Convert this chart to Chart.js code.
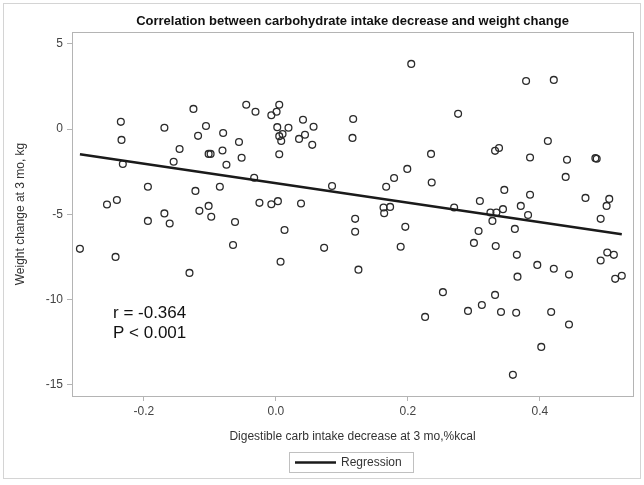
<!DOCTYPE html>
<html><head><meta charset="utf-8">
<script src="https://cdn.jsdelivr.net/npm/chart.js@4/dist/chart.umd.min.js"></script>
<style>html,body{margin:0;padding:0;background:#fff}#wrap{width:644px;height:485px;position:relative}</style>
</head><body><div id="wrap"><canvas id="c" width="644" height="485"></canvas></div>
<script>
const carbDecrease = [
-0.235,-0.234,-0.169,-0.125,-0.045,-0.031,-0.106,-0.118,-0.080,-0.056,
-0.146,-0.102,-0.099,-0.081,-0.052,-0.155,0.005,0.001,-0.007,0.205,
0.041,0.117,0.002,0.019,0.057,0.005,0.010,0.008,0.035,0.044,
0.055,0.116,0.005,0.235,0.379,0.421,0.276,0.412,0.332,0.338,
0.385,0.441,0.484,0.486,-0.232,-0.075,-0.033,-0.194,-0.122,-0.085,
-0.256,-0.241,-0.169,-0.116,-0.102,-0.025,-0.194,-0.161,-0.098,-0.062,
-0.297,-0.243,-0.065,-0.131,0.199,0.179,0.236,0.085,0.167,-0.007,
0.003,0.038,0.163,0.173,0.164,0.120,0.120,0.196,0.013,0.073,
0.189,0.007,0.125,0.439,0.346,0.385,0.469,0.505,0.501,0.309,
0.371,0.270,0.325,0.334,0.344,0.382,0.328,0.492,0.307,0.362,
0.300,0.333,0.365,0.502,0.512,0.492,0.396,0.421,0.366,0.444,
0.514,0.524,0.253,0.226,0.291,0.312,0.332,0.341,0.364,0.417,
0.444,0.402,0.359
];
const weightChange = [
0.43,-0.63,0.08,1.19,1.43,1.02,0.19,-0.39,-0.22,-0.75,
-1.16,-1.45,-1.45,-1.25,-1.68,-1.91,1.43,1.02,0.82,3.83,
0.55,0.60,0.12,0.08,0.14,-0.41,-0.29,-0.69,-0.57,-0.33,
-0.92,-0.51,-1.47,-1.45,2.83,2.89,0.90,-0.69,-1.27,-1.10,
-1.66,-1.79,-1.70,-1.73,-2.04,-2.09,-2.85,-3.38,-3.62,-3.38,
-4.42,-4.15,-4.94,-4.79,-4.50,-4.32,-5.38,-5.53,-5.14,-5.44,
-7.02,-7.49,-6.79,-8.43,-2.33,-2.86,-3.13,-3.33,-3.38,-4.40,
-4.22,-4.36,-4.59,-4.56,-4.93,-5.26,-6.02,-5.73,-5.91,-6.96,
-6.90,-7.78,-8.24,-2.80,-3.56,-3.85,-4.03,-4.09,-4.50,-4.21,
-4.50,-4.59,-4.89,-4.89,-4.69,-5.03,-5.38,-5.26,-5.97,-5.85,
-6.67,-6.85,-7.37,-7.23,-7.37,-7.70,-7.96,-8.19,-8.65,-8.53,
-8.78,-8.60,-9.56,-11.01,-10.66,-10.31,-9.72,-10.72,-10.77,-10.72,
-11.46,-12.77,-14.41
];
const regressionX = [-0.297, 0.524];
const regressionY = [-1.47, -6.16];
const xTicks = [-0.2, 0.0, 0.2, 0.4];
const yTicks = [-15, -10, -5, 0, 5];
const statsLines = ['r = -0.364', 'P < 0.001'];
const chartTitle = 'Correlation between carbohydrate intake decrease and weight change';
const xTitle = 'Digestible carb intake decrease at 3 mo,%kcal';
const yTitle = 'Weight change at 3 mo, kg';
const seriesLabels = ['Data', 'Regression'];

const FONT = "'Liberation Sans', Arial, sans-serif";

const decor = {
  id: 'decor',
  afterDraw(chart) {
    const ctx = chart.ctx;
    const a = chart.chartArea;
    ctx.save();
    // outer border
    ctx.strokeStyle = '#d4d4d4';
    ctx.lineWidth = 1;
    ctx.strokeRect(3.5, 3.5, 637, 475);
    // plot frame
    ctx.strokeStyle = '#b4b4b4';
    ctx.strokeRect(Math.round(a.left) + 0.5, Math.round(a.top) + 0.5, Math.round(a.right - a.left), Math.round(a.bottom - a.top));
    // title
    ctx.fillStyle = '#111';
    ctx.font = 'bold 13px ' + FONT;
    ctx.textAlign = 'center';
    ctx.textBaseline = 'middle';
    ctx.fillText(chartTitle, (a.left + a.right) / 2, 21);
    // stats
    ctx.font = '17px ' + FONT;
    ctx.textAlign = 'left';
    ctx.textBaseline = 'alphabetic';
    ctx.fillText(statsLines[0], 113, 318);
    ctx.fillText(statsLines[1], 113, 338);
    // legend
    const lx = 289.5, ly = 452.5, lw = 124, lh = 20;
    ctx.strokeStyle = '#c0c0c0';
    ctx.lineWidth = 1;
    ctx.strokeRect(lx, ly, lw, lh);
    ctx.strokeStyle = '#1a1a1a';
    ctx.lineWidth = 2.5;
    ctx.beginPath();
    ctx.moveTo(295, 462.5);
    ctx.lineTo(336, 462.5);
    ctx.stroke();
    ctx.fillStyle = '#333';
    ctx.font = '12px ' + FONT;
    ctx.textBaseline = 'middle';
    ctx.fillText(chart.data.datasets[1].label, 341, 463);
    ctx.restore();
  }
};

new Chart(document.getElementById('c'), {
  type: 'scatter',
  data: {
    datasets: [
      {
        label: seriesLabels[0],
        data: carbDecrease.map((x, i) => ({x: x, y: weightChange[i]})),
        pointStyle: 'circle',
        pointRadius: 3.4,
        borderWidth: 1.3,
        borderColor: '#2b2b2b',
        backgroundColor: 'rgba(255,255,255,0)',
        order: 2
      },
      {
        type: 'line',
        label: seriesLabels[1],
        data: regressionX.map((x, i) => ({x: x, y: regressionY[i]})),
        borderColor: '#1a1a1a',
        borderWidth: 2.5,
        pointRadius: 0,
        fill: false,
        order: 1
      }
    ]
  },
  options: {
    responsive: false,
    animation: false,
    devicePixelRatio: 1,
    layout: {padding: {top: 32, right: 11, bottom: 0, left: 0}},
    plugins: {legend: {display: false}, tooltip: {enabled: false}, title: {display: false}},
    scales: {
      x: {
        type: 'linear',
        min: -0.309, max: 0.541,
        afterBuildTicks: s => { s.ticks = xTicks.map(v => ({value: v})); },
        afterFit: s => { s.height = 89; },
        ticks: {callback: v => Number(v).toFixed(1), font: {family: FONT, size: 12}, color: '#444', padding: 3, maxRotation: 0, autoSkip: false},
        grid: {drawOnChartArea: false, drawTicks: true, tickLength: 5, color: '#b4b4b4'},
        border: {display: true, color: '#b4b4b4'},
        title: {display: true, text: xTitle, font: {family: FONT, size: 12}, color: '#333', padding: {top: 4, bottom: 41}}
      },
      y: {
        type: 'linear',
        min: -15.65, max: 5.7,
        afterBuildTicks: s => { s.ticks = yTicks.map(v => ({value: v})); },
        afterFit: s => { s.width = 72; },
        ticks: {callback: v => String(v), font: {family: FONT, size: 12}, color: '#444', padding: 4, autoSkip: false},
        grid: {drawOnChartArea: false, drawTicks: true, tickLength: 5, color: '#b4b4b4'},
        border: {display: true, color: '#b4b4b4'},
        title: {display: true, text: yTitle, font: {family: FONT, size: 12}, color: '#333', padding: {top: 13, bottom: 4}}
      }
    }
  },
  plugins: [decor]
});
</script>
</body></html>
